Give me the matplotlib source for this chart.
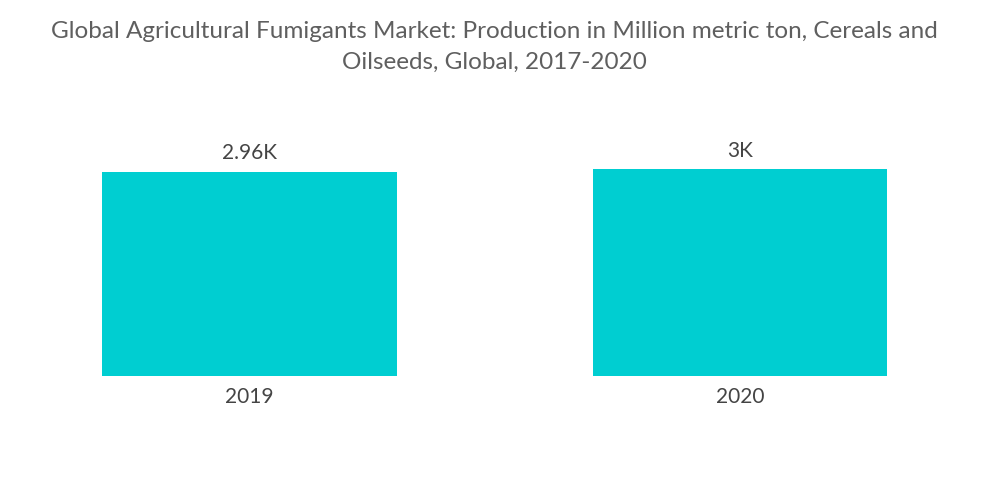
import matplotlib
matplotlib.use("Agg")
import matplotlib.pyplot as plt

years = ["2019", "2020"]
production = [2960, 3000]
value_labels = ["2.96K", "3K"]

plt.rcParams['font.family'] = ['Lato', 'DejaVu Sans']

fig = plt.figure(figsize=(10, 5.04), dpi=100)
ax = fig.add_axes([0.00425, 0.254, 0.981, 0.5476])

x = range(len(years))
bars = ax.bar(x, production, width=0.601, color="#00CED1")
ax.set_xlim(-0.5, 1.5)
ax.set_ylim(0, 4000)

for b, lab in zip(bars, value_labels):
    ax.annotate(lab, (b.get_x() + b.get_width() / 2, b.get_height()),
                xytext=(0, 6), textcoords="offset points",
                ha="center", va="bottom", fontsize=15, color="#444444")

ax.set_xticks(list(x))
ax.set_xticklabels(years, fontsize=15, color="#444444")
ax.tick_params(axis="x", length=0, pad=8)
ax.set_yticks([])
for s in ax.spines.values():
    s.set_visible(False)

fig.text(0.494, 0.958, "Global Agricultural Fumigants Market: Production in Million metric ton, Cereals and\nOilseeds, Global, 2017-2020",
         ha="center", va="top", fontsize=17.5, color="#5f5f5f", linespacing=1.55)

fig.savefig("out.png", dpi=100)
